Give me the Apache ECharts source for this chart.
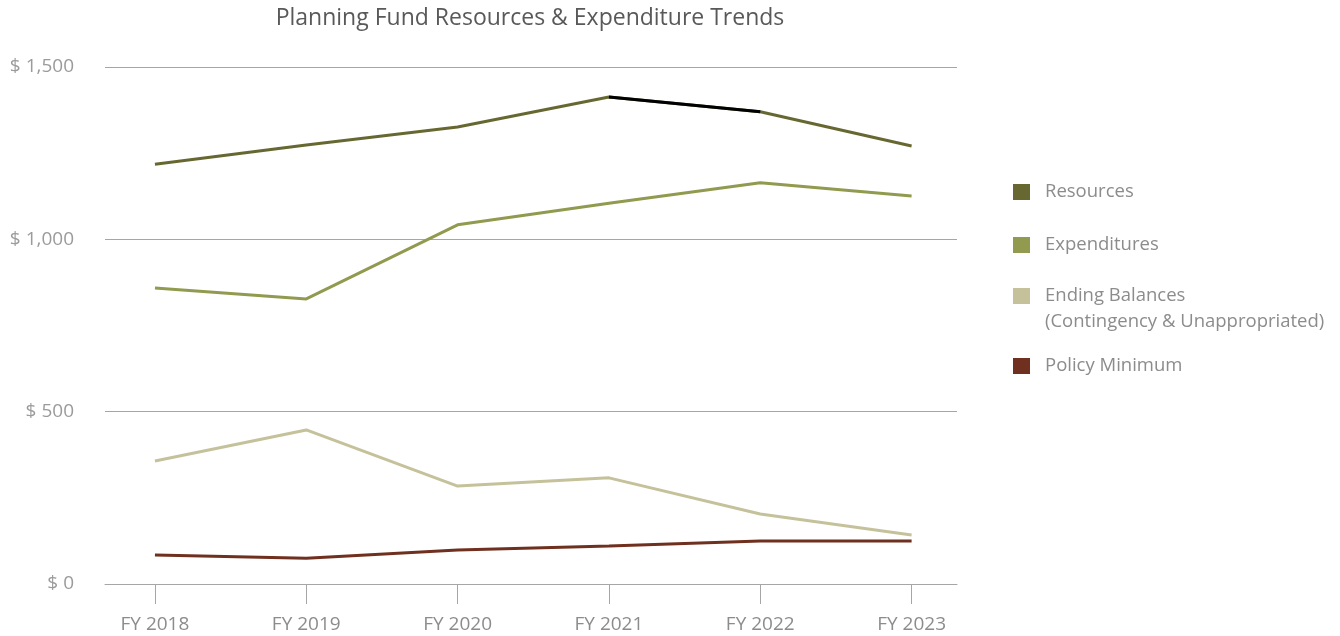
<!DOCTYPE html>
<html>
<head>
<meta charset="utf-8">
<script src="https://cdn.jsdelivr.net/npm/echarts@6/dist/echarts.min.js"></script>
<style>
  html, body { margin: 0; padding: 0; background: #fff; }
  #chart { width: 1340px; height: 636px; }
</style>
</head>
<body>
<div id="chart"></div>
<script>
// data (thousands of dollars)
var years = ['FY 2018', 'FY 2019', 'FY 2020', 'FY 2021', 'FY 2022', 'FY 2023'];
var resources = [1218, 1274, 1326, 1413, 1370, 1271];
var expenditures = [859, 827, 1042, 1105, 1164, 1126];
var endingBalances = [357, 447, 284, 308, 203, 142];
var policyMinimum = [84, 75, 99, 110, 125, 125];
var yTicks = [0, 500, 1000, 1500];

var colors = {
    res: '#676831',
    exp: '#919a4e',
    end: '#c5c29b',
    pol: '#6f301f',
};
var font = 'Open Sans';

function pairs(arr) {
    return arr.map(function (v, i) { return [i, v]; });
}
// FY2021 -> FY2022 segment of Resources is drawn black in the original
function highlight(arr) {
    return arr.map(function (v, i) { return [i, (i === 3 || i === 4) ? v : null]; });
}
function money(v) {
    return '$ ' + v.toLocaleString('en-US');
}

var myChart = echarts.init(document.getElementById('chart'));

function lineSeries(name, arr, color, z) {
    return {
        name: name,
        type: 'line',
        data: pairs(arr),
        symbol: 'none',
        color: color,
        lineStyle: { width: 3, color: color },
        z: z || 2,
        silent: true,
    };
}

function legendBox(names, top, fmt) {
    return {
        orient: 'vertical',
        left: 1013,
        top: top,
        padding: 0,
        itemWidth: 17,
        itemHeight: 16,
        itemGap: 27,
        icon: 'rect',
        data: names,
        formatter: fmt,
        textStyle: { fontFamily: font, fontSize: 18.5, color: '#8c8c8c', lineHeight: 26, padding: [0, 0, 0, 10] },
    };
}

var option = {
    animation: false,
    title: {
        text: 'Planning Fund Resources & Expenditure Trends',
        left: 525,
        top: 2,
        textAlign: 'center',
        textStyle: { fontFamily: font, fontSize: 23, fontWeight: 'normal', color: '#595959' },
    },
    legend: [
        legendBox(['Resources', 'Expenditures'], 179),
        legendBox(['Ending Balances'], 257, function () {
            return '\nEnding Balances\n(Contingency & Unappropriated)';
        }),
        legendBox(['Policy Minimum'], 353),
    ],
    grid: { left: 105, right: 383, top: 67, bottom: 52 },
    xAxis: {
        type: 'value',
        min: -0.33,
        max: 5.3,
        splitLine: { show: false },
        axisLine: { lineStyle: { color: '#a6a6a6' } },
        axisTick: { length: 20, lineStyle: { color: '#a6a6a6' }, customValues: [0, 1, 2, 3, 4, 5] },
        axisLabel: {
            customValues: [0, 1, 2, 3, 4, 5],
            formatter: function (v) { return years[Math.round(v)]; },
            margin: 31,
            fontFamily: font,
            fontSize: 19,
            color: '#8c8c8c',
        },
    },
    yAxis: {
        type: 'value',
        min: yTicks[0],
        max: yTicks[yTicks.length - 1],
        interval: 500,
        axisLine: { show: false },
        axisTick: { show: false },
        splitLine: { lineStyle: { color: '#a6a6a6', width: 1 } },
        axisLabel: {
            formatter: money,
            margin: 31,
            fontFamily: font,
            fontSize: 19,
            color: '#9b9b9b',
        },
    },
    series: [
        lineSeries('Resources', resources, colors.res),
        lineSeries('Expenditures', expenditures, colors.exp),
        lineSeries('Ending Balances', endingBalances, colors.end),
        lineSeries('Policy Minimum', policyMinimum, colors.pol),
        {
            name: 'highlight',
            type: 'line',
            data: highlight(resources),
            symbol: 'none',
            lineStyle: { width: 3, color: '#000' },
            z: 3,
            silent: true,
        },
    ],
};

myChart.setOption(option);
</script>
</body>
</html>
